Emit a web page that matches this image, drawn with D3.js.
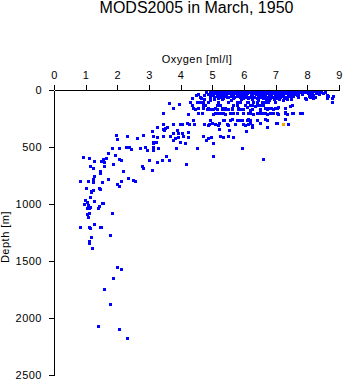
<!DOCTYPE html>
<html>
<head>
<meta charset="utf-8">
<script src="https://cdn.jsdelivr.net/npm/d3@7"></script>
<style>
  html, body { margin: 0; padding: 0; background: #fff; }
  svg { display: block; font-family: "Liberation Sans", Arial, Helvetica, sans-serif; }
</style>
</head>
<body>
<svg id="chart" width="345" height="384"></svg>
<script>
// Chart text
const chartTitle = "MODS2005 in March, 1950";
const xTitle = "Oxygen [ml/l]";
const yTitle = "Depth [m]";

// Axis ticks
const oxygenTicks = [0, 1, 2, 3, 4, 5, 6, 7, 8, 9];
const depthTicks = [0, 500, 1000, 1500, 2000, 2500];

// Observations as [oxygen (ml/l), depth (m)]
// Mixed layer, 0-60 m
const mixedLayer = [
  [5.12,6],[5.31,6],[5.52,7],[5.68,6],[5.9,6],[6.08,7],[6.3,6],[6.47,6],[6.71,7],[6.9,6],[7.08,6],[7.33,7],[7.52,6],[7.69,6],[7.93,7],[8.12,6],[8.31,7],
  [4.92,10],[5.03,9],[5.21,10],[5.42,11],[5.61,9],[5.79,10],[6.02,10],[6.19,11],[6.41,9],[6.6,10],[6.82,11],[7.01,9],[7.18,10],[7.42,10],[7.61,11],[7.81,9],[8.02,10],[8.22,11],[8.44,10],
  [5.05,15],[5.27,16],[5.46,14],[5.63,15],[5.86,16],[6.04,15],[6.26,14],[6.44,16],[6.63,15],[6.86,15],[7.04,16],[7.27,14],[7.46,15],[7.64,16],[7.87,15],[8.06,14],[8.28,16],[8.57,15],
  [4.81,21],[5.16,22],[5.37,20],[5.55,21],[5.74,22],[5.96,20],[6.14,21],[6.36,22],[6.53,20],[6.77,21],[6.94,22],[7.16,20],[7.36,21],[7.57,22],[7.74,20],[7.97,21],[8.16,22],[8.39,20],
  [4.96,28],[5.11,27],[5.32,29],[5.49,28],[5.71,27],[5.91,29],[6.09,28],[6.31,27],[6.49,29],[6.69,28],[6.91,27],[7.11,29],[7.29,28],[7.51,27],[7.72,29],[8.01,28],[8.26,27],[8.48,29],
  [4.56,36],[4.86,34],[5.19,35],[5.41,36],[5.58,34],[5.81,35],[6.01,36],[6.21,34],[6.39,35],[6.61,36],[6.79,34],[6.99,35],[7.21,36],[7.39,34],[7.62,35],[7.84,36],[8.11,34],[8.36,35],
  [4.49,44],[4.74,42],[5.01,43],[5.24,44],[5.44,42],[5.66,43],[5.84,44],[6.06,42],[6.24,43],[6.46,44],[6.66,42],[6.84,43],[7.06,44],[7.24,42],[7.44,43],[7.66,44],[8.19,43],[8.63,42],
  [4.94,51],[5.14,52],[5.36,50],[5.59,51],[5.79,52],[5.99,50],[6.22,51],[6.43,52],[6.59,50],[6.81,51],[7.02,52],[7.19,50],[7.41,51],[7.54,52],[7.71,53],[8.06,50],[8.66,53],[8.82,53],
  [5.06,58],[5.27,57],[5.48,59],[5.69,58],[5.9,57],[6.11,59],[6.33,58],[6.54,57],[6.74,59],[6.95,58],[7.13,57],[7.33,59]
];

// Upper thermocline, 60-310 m
const upperThermocline = [
  [4.35,66],[4.6,64],[4.65,67],[4.93,65],[5.18,66],[5.26,64],[5.34,67],[5.46,65],[5.65,66],[5.87,64],[5.97,67],[6.05,65],[6.12,66],[6.19,64],[6.4,66],[6.5,65],
  [6.6,67],[6.7,64],[6.82,66],[6.92,65],[7.03,67],[7.14,64],[7.25,66],[7.36,65],[7.48,67],[7.71,64],[7.92,66],[8.08,65],[8.18,67],[8.24,64],[8.61,66],[8.77,68],
  [6.68,80],[6.8,84],[6.95,82],[7.1,79],[7.22,85],[7.35,81],[7.47,83],[7.96,82],[5.3,80],[5.6,84],[5.9,82],[6.25,79],[6.45,85],[4.75,83],[5.05,81],[4.93,88],
  [4.5,104],[4.6,106],[4.71,105],[4.87,107],[5.19,104],[5.5,106],[5.77,105],[5.87,107],[6.08,104],[6.14,106],[6.29,105],[6.4,107],[6.56,104],[6.66,106],[6.76,105],[6.98,107],
  [8.77,108],[3.63,111],[4.29,108],[4.66,108],
  [3.96,123],[4.35,132],[4.71,130],[4.77,133],[5.14,131],[5.24,129],[5.66,132],[5.77,130],[6.03,131],[6.19,133],[6.24,129],[6.4,131],[6.5,132],[6.61,130],[7.51,132],
  [3.75,158],[4.4,155],[4.45,167],[4.56,155],[4.71,155],[4.82,168],[4.87,155],[4.93,166],[5.03,169],[5.08,155],[5.14,167],[5.3,155],[5.3,170],[5.4,157],[5.4,166],[5.5,168],
  [5.61,155],[5.61,167],[5.82,155],[5.82,168],[5.9,166],[5.98,169],[6.08,152],[6.19,175],[6.24,167],[6.35,140],[6.5,175],[6.5,166],[6.66,160],[6.72,168],[6.76,157],[6.84,160],
  [6.92,163],[6.98,155],[7.04,158],[7.08,146],[7.29,160],[7.45,140],
  [3.45,204],[4.22,213],[4.56,204],[4.66,204],[5.03,207],[5.08,204],[5.14,206],[5.24,204],[5.35,205],[5.4,207],[5.56,204],[5.66,206],[5.77,204],[5.98,206],[6.14,205],[6.19,204],
  [6.29,207],[6.4,204],[6.5,206],[6.56,205],[6.66,204],[6.72,207],[6.82,205],[6.92,204],[7.03,206],[7.08,208],[7.29,193],[7.29,204],[7.35,207],[7.5,205],[7.56,204],[7.77,206],[7.82,204],
  [4.4,263],[4.93,259],[5.35,262],[5.37,263],[5.56,260],[5.61,257],[5.77,259],[5.85,261],[5.93,259],[6.08,260],[6.14,257],[6.19,259],[6.4,260],[6.66,258],[6.72,261],[7.29,254],
  [3.43,298],[3.77,298],[3.98,301],[4.05,298],[4.19,292],[4.27,301],[4.42,301],[4.75,301],[4.87,303],[4.9,301],[5.0,292],[5.08,298],[5.19,303],[5.21,287],[5.45,301],[5.5,303],
  [5.71,301],[5.98,301],[6.03,303],[6.14,300],[6.19,292],[6.24,303],[6.5,292],[7.01,292],[7.03,290],[7.4,301]
];

// Lower thermocline, 320-710 m
const lowerThermocline = [
  [3.08,360],[3.24,322],[3.45,342],[3.5,331],[3.56,322],[3.48,351],[3.14,403],[3.24,415],[3.45,401],[3.66,403],[3.77,380],[3.82,424],[3.77,439],[3.92,380],[3.92,410],
  [4.03,380],[4.06,403],[4.24,371],[4.22,410],[3.87,351],[4.71,403],[4.8,439],[4.87,424],[4.96,410],[5.24,401],[5.35,410],[5.5,403],[5.64,410],[5.22,345],[5.54,351],
  [6.06,360],[6.24,322],[6.72,322],[3.12,453],[3.22,453],[3.14,467],[3.12,497],[3.14,526],[3.29,506],[3.85,506],[4.14,467],[3.98,459],[4.51,511],[5.01,467],[5.93,511],
  [3.54,576],[3.4,614],[3.63,614],[3.24,629],[5.03,579],[4.16,652],[6.61,605],[3.08,702],[2.82,395]
];

// Intermediate and deep water, 390-2200 m
const deepWater = [
  [1.84,511],[2.06,506],[2.27,497],[2.38,503],[2.42,515],[1.96,395],[1.99,432],[2.31,404],[2.61,424],[2.72,511],[2.86,503],[2.95,529],
  [1.71,555],[1.92,573],[2.04,603],[2.12,614],[0.91,590],[1.11,594],[1.27,620],[1.48,620],[1.54,603],[1.64,596],[1.59,629],[2.99,617],
  [1.87,652],[1.59,664],[1.14,669],[1.24,687],[1.45,708],[1.45,731],[2.78,667],[2.82,687],[2.19,711],[1.27,752],[2.35,775],[1.71,781],
  [0.83,798],[1.08,796],[1.22,783],[1.24,807],[1.52,810],[2.12,798],[2.5,789],[2.57,798],[1.02,857],[1.22,877],[1.17,889],[1.16,892],
  [1.43,857],[1.46,868],[1.98,827],[2.04,842],[1.14,936],[0.98,965],[1.03,980],[1.27,974],[1.51,994],[1.56,994],[0.96,1003],[1.08,1011],
  [1.14,1024],[1.42,1015],[1.4,1032],[1.03,1038],[1.11,1032],[1.1,1076],[1.03,1090],[1.83,1076],[1.07,1117],[1.27,1175],[0.82,1202],[1.1,1202],
  [1.14,1213],[1.45,1204],[1.49,1199],[1.78,1275],[1.18,1292],[1.11,1327],[1.11,1339],[1.21,1389],[1.98,1555],[2.13,1573],[1.85,1646],
  [1.59,1746],[1.78,1880],[1.4,2073],[2.06,2099],[2.31,2178]
];

// Flagged observation
const flagged = [[7.24,301]];

const svg = d3.select("#chart");
svg.append("rect").attr("width", 345).attr("height", 384).attr("fill", "#fff");

const x = d3.scaleLinear().domain([0, 9]).range([54, 339]);
const y = d3.scaleLinear().domain([0, 2500]).range([90, 375]);

const marker = 3;
function drawPoints(data, color) {
  svg.append("g")
    .attr("shape-rendering", "crispEdges")
    .selectAll("rect")
    .data(data)
    .join("rect")
    .attr("x", d => Math.round(x(d[0])) - 1)
    .attr("y", d => Math.round(y(d[1])) - 1)
    .attr("width", marker)
    .attr("height", marker)
    .attr("fill", color);
}

drawPoints(mixedLayer, "#0000ff");
drawPoints(upperThermocline, "#0000ff");
drawPoints(lowerThermocline, "#0000ff");
drawPoints(deepWater, "#0000ff");
drawPoints(flagged, "#ffa500");

const tickFont = g => g.selectAll("text")
  .attr("font-size", 11)
  .attr("letter-spacing", "0.5px")
  .attr("fill", "#000");

const xAxis = svg.append("g")
  .attr("transform", "translate(0,90)")
  .call(d3.axisTop(x).tickValues(oxygenTicks).tickFormat(d3.format("d"))
    .tickSize(5).tickSizeOuter(0).tickPadding(6))
  .call(tickFont);

const yAxis = svg.append("g")
  .attr("transform", "translate(54,0)")
  .call(d3.axisLeft(y).tickValues(depthTicks).tickFormat(d3.format("d"))
    .tickSize(5).tickSizeOuter(0).tickPadding(7))
  .call(tickFont);

svg.selectAll(".domain, .tick line")
  .attr("stroke", "#000")
  .attr("shape-rendering", "crispEdges");
xAxis.attr("font-family", null);
yAxis.attr("font-family", null);

svg.append("text")
  .attr("x", 196.5).attr("y", 13)
  .attr("text-anchor", "middle")
  .attr("font-size", 16)
  .text(chartTitle);

svg.append("text")
  .attr("x", 197).attr("y", 63)
  .attr("text-anchor", "middle")
  .attr("font-size", 11)
  .attr("letter-spacing", "0.5px")
  .text(xTitle);

svg.append("text")
  .attr("transform", "translate(9,237) rotate(-90)")
  .attr("text-anchor", "middle")
  .attr("font-size", 11)
  .attr("letter-spacing", "0.5px")
  .text(yTitle);
</script>
</body>
</html>
